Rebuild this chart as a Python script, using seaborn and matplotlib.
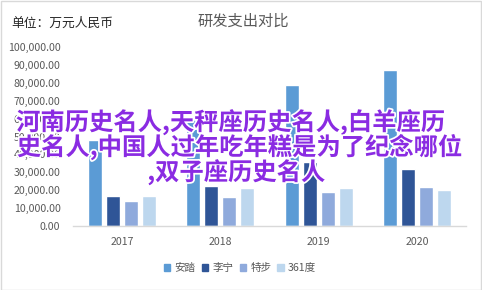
import matplotlib
matplotlib.use("Agg")
import matplotlib.pyplot as plt
import matplotlib.patheffects as pe
from matplotlib.patches import Rectangle
from matplotlib.ticker import FuncFormatter
import seaborn as sns
import pandas as pd

years = ["2017", "2018", "2019", "2020"]
brands = ["安踏", "李宁", "特步", "361度"]
anta = [48000, 60000, 79000, 87000]
lining = [17000, 22500, 36000, 32000]
xtep = [14000, 16300, 19000, 22000]
d361 = [17000, 21300, 21300, 20200]
colors = ["#5B9BD5", "#2F5597", "#8FAADC", "#BDD7EE"]
title = "研发支出对比"
unit = "单位：万元人民币"
overlay = ["河南历史名人,天秤座历史名人,白羊座历", "史名人,中国人过年吃年糕是为了纪念哪位", ",双子座历史名人"]

rows = []
for b, vals in zip(brands, [anta, lining, xtep, d361]):
    for y, v in zip(years, vals):
        rows.append({"年份": y, "品牌": b, "值": v})
df = pd.DataFrame(rows)

sns.set_theme(style="white")
plt.rcParams['font.family'] = ['Noto Sans CJK SC', 'DejaVu Sans']

W, H = 482, 290
fig = plt.figure(figsize=(W / 100, H / 100), dpi=100)
ax = fig.add_axes([73 / W, 1 - 226 / H, (466 - 73) / W, (226 - 47) / H])

sns.barplot(data=df, x="年份", y="值", hue="品牌", order=years, hue_order=brands,
            palette=colors, width=0.733, gap=0.22, ax=ax, legend=False, saturation=1)

ax.set_ylim(0, 100000)
ax.set_xlim(-0.5, 3.5)
ax.set_yticks(range(0, 100001, 10000))
ax.yaxis.set_major_formatter(FuncFormatter(lambda v, p: f"{v:,.2f}"))
ax.set_xlabel("")
ax.set_ylabel("")
for s in ["top", "right", "left"]:
    ax.spines[s].set_visible(False)
ax.spines["bottom"].set_color("#D9D9D9")
ax.spines["bottom"].set_linewidth(1)
ax.tick_params(axis="y", length=0, labelsize=7.6, colors="#595959", pad=9)
ax.tick_params(axis="x", length=0, labelsize=7.6, colors="#595959", pad=8)
ax.grid(False)

fig.text(243 / W, 1 - 21 / H, title, ha="center", va="center", fontsize=11, color="#595959")
fig.text(11 / W, 1 - 23 / H, unit, ha="left", va="center", fontsize=9.2, color="#262626")

handles = [Rectangle((0, 0), 1, 1, color=c) for c in colors]
fig.legend(handles, brands, loc="center", bbox_to_anchor=(240 / W, 1 - 268 / H), ncol=4,
           frameon=False, fontsize=7.6, handlelength=0.6, handleheight=0.6,
           handletextpad=0.4, columnspacing=0.6, labelcolor="#595959")

ov_x = [230, 239, 236]
ov_y = [122, 147, 172]
for t, x, y in zip(overlay, ov_x, ov_y):
    fig.text(x / W, 1 - y / H, t, ha="center", va="center", fontsize=17.5,
             color="#8A2BE2", fontweight="bold",
             path_effects=[pe.withStroke(linewidth=2.5, foreground="white")])

fig.patches.append(Rectangle((0.5 / W, 0.5 / H), 1 - 1.5 / W, 1 - 1.5 / H, transform=fig.transFigure,
                             fill=False, edgecolor="#D9D9D9", linewidth=1))

fig.savefig("out.png", dpi=100)
